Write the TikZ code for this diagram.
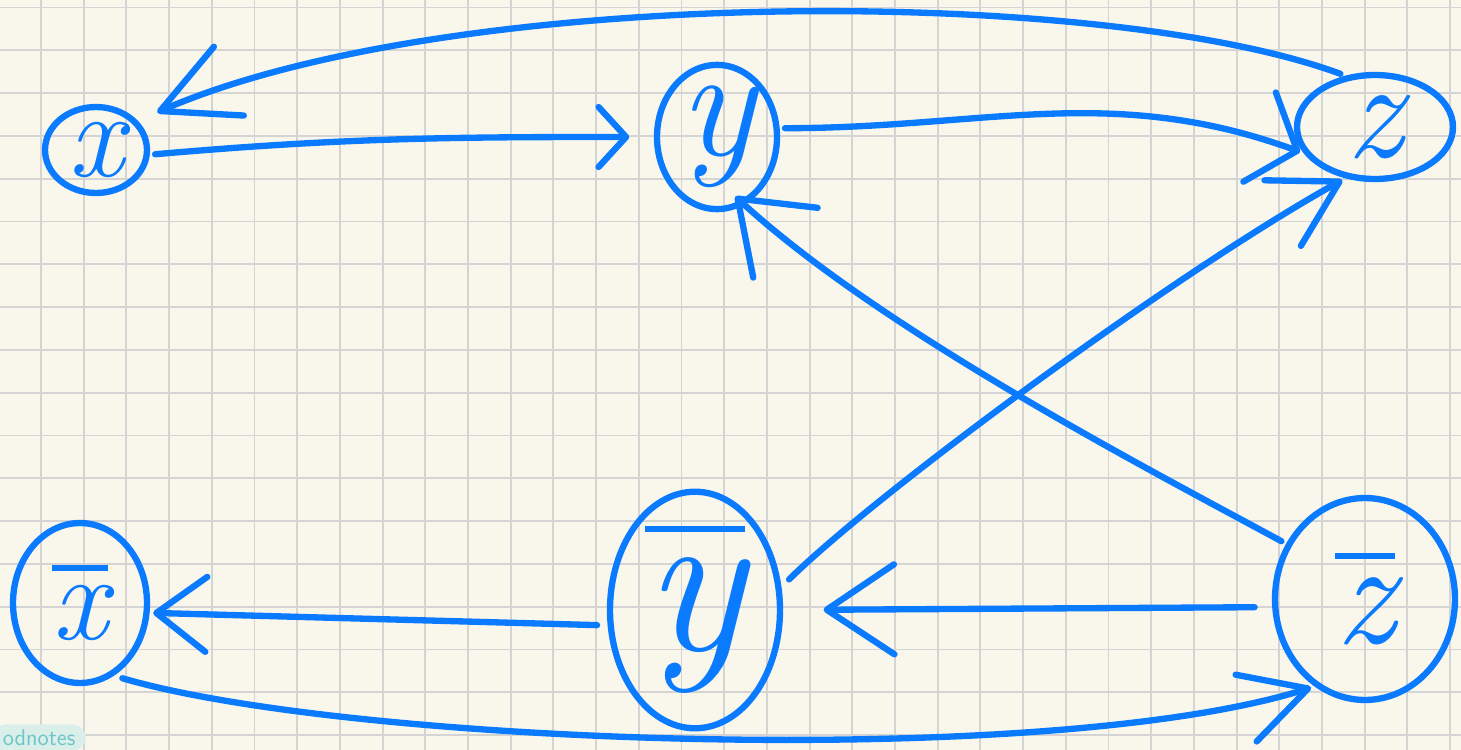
\documentclass[tikz,border=0pt]{standalone}
\usepackage{xcolor}
\usetikzlibrary{arrows.meta,shapes.geometric}
\definecolor{inkblue}{RGB}{10,122,255}
\definecolor{paper}{RGB}{249,247,236}
\definecolor{gridgray}{RGB}{212,212,212}
\definecolor{notesteal}{RGB}{108,197,199}
\definecolor{notesfill}{RGB}{218,239,234}
\newcommand{\barred}[1]{\vbox{\hrule height 3.4pt \kern 0.12em \hbox{#1}}}

\begin{document}
\begin{tikzpicture}[x=0.02cm, y=-0.02cm,
    vtx/.style={draw=inkblue, ellipse, line width=3.6pt, text=inkblue, inner sep=0pt},
    link/.style={draw=inkblue, line width=3.6pt, line cap=round, shorten <=3pt, shorten >=2pt}
]
\useasboundingbox (0,0) rectangle (1461,750);
\clip (0,0) rectangle (1461,750);
\fill[paper] (0,0) rectangle (1461,750);
\foreach \i in {0,...,33} \draw[gridgray, line width=1.1pt] ({41+42.7*\i},0) -- ({41+42.7*\i},750);
\foreach \j in {0,...,17} \draw[gridgray, line width=1.1pt] (0,{7.5+42.8*\j}) -- (1461,{7.5+42.8*\j});

\node[vtx, minimum width=2.04cm, minimum height=1.72cm, font=\fontsize{70}{70}\selectfont\itshape] (x) at (96,150) {x};
\node[vtx, minimum width=2.4cm, minimum height=2.8cm, font=\fontsize{90}{90}\selectfont\itshape] (y) at (717,137) {y};
\node[vtx, minimum width=3.12cm, minimum height=2.08cm, font=\fontsize{80}{80}\selectfont\itshape] (z) at (1375,127) {z};
\node[vtx, minimum width=2.68cm, minimum height=3.2cm, font=\fontsize{70}{70}\selectfont\itshape] (xb) at (80,603) {\barred{x}};
\node[vtx, minimum width=3.4cm, minimum height=4.32cm, font=\fontsize{120}{120}\selectfont\itshape] (yb) at (695,610) {\barred{y}};
\node[vtx, minimum width=3.6cm, minimum height=4.04cm, font=\fontsize{85}{85}\selectfont\itshape] (zb) at (1365,599) {\barred{z}};

\draw[link, shorten >=12pt, -{Straight Barb[length=1.5cm, width=1.5cm, round]}] (z.120) .. controls (1100,-15) and (450,-15) .. (x.35);
\draw[link, shorten >=14pt, -{Straight Barb[length=0.55cm, width=1.2cm, round]}] (x.-5) to[out=5, in=180] (y.west);
\draw[link, -{Straight Barb[length=0.8cm, width=1.9cm, round]}] (y.8) to[out=0, in=160] (z.200);
\draw[link, shorten <=6pt, -{Straight Barb[length=1.3cm, width=1.5cm, round]}] (yb.15) .. controls (880,490) and (1180,270) .. (z.240);
\draw[link, shorten >=-7pt, -{Straight Barb[length=1.3cm, width=1.9cm, round]}] (zb.145) .. controls (1150,470) and (880,330) .. (y.-68);
\draw[link, shorten <=10pt, shorten >=23pt, -{Straight Barb[length=1.35cm, width=1.8cm, round]}] (zb.185) -- (yb.east);
\draw[link, shorten <=6pt, -{Straight Barb[length=1cm, width=1.5cm, round]}] (yb.190) -- (xb.-8);
\draw[link, shorten <=5pt, -{Straight Barb[length=1.3cm, width=1.4cm, round]}] (xb.-65) .. controls (350,745) and (1050,770) .. (zb.240);

\node[fill=notesfill, rounded corners=8pt, text=notesteal, font=\sffamily\fontsize{13}{13}\selectfont,
    anchor=north west, inner xsep=6pt, inner ysep=3pt] (wm) at (-8,724) {odnotes};
\end{tikzpicture}
\end{document}
